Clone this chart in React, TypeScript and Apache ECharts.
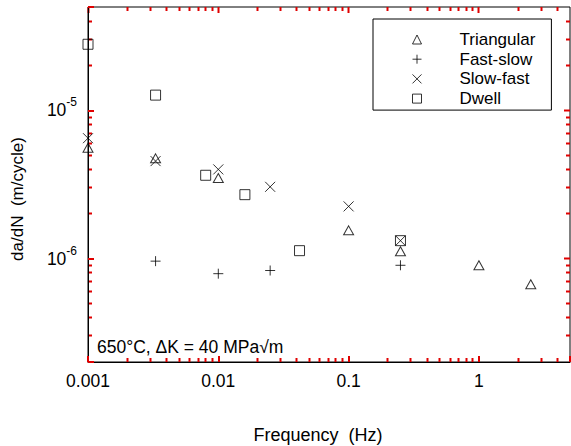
import React, { useEffect, useRef } from 'react';
import * as echarts from 'echarts';

// ---- data (frequency in Hz, da/dN in m/cycle) ----
const triangularFreq = [0.001, 0.0033, 0.01, 0.1, 0.25, 1, 2.5];
const triangularRate = [5.6e-6, 4.75e-6, 3.5e-6, 1.55e-6, 1.12e-6, 9.0e-7, 6.7e-7];

const fastSlowFreq = [0.0033, 0.01, 0.025, 0.25];
const fastSlowRate = [9.6e-7, 7.9e-7, 8.3e-7, 9.0e-7];

const slowFastFreq = [0.001, 0.0033, 0.01, 0.025, 0.1, 0.25];
const slowFastRate = [6.5e-6, 4.55e-6, 4.0e-6, 3.05e-6, 2.25e-6, 1.32e-6];

const dwellFreq = [0.001, 0.0033, 0.008, 0.016, 0.042, 0.25];
const dwellRate = [2.8e-5, 1.27e-5, 3.65e-6, 2.7e-6, 1.13e-6, 1.32e-6];

const seriesNames = ['Triangular', 'Fast-slow', 'Slow-fast', 'Dwell'];

// ---- axes ----
const xMin = 0.001;
const xMax = 5;
const yMin = 2e-7;
const yMax = 5e-5;
const xTickValues = [0.001, 0.01, 0.1, 1];
const xTickLabels = ['0.001', '0.01', '0.1', '1'];
const yTickValues = [1e-6, 1e-5];
const yTickExponents = ['-6', '-5'];

const xDecades = [-3, -2, -1, 0];
const yDecades = [-7, -6, -5];
const mantissas = [2, 3, 4, 5, 6, 7, 8, 9];

function minorTicks(decades: number[], lo: number, hi: number) {
  const out: number[] = [];
  decades.forEach((d) => {
    mantissas.forEach((m) => {
      const v = m * Math.pow(10, d);
      if (v > lo * 1.0001 && v < hi * 0.9999) out.push(v);
    });
  });
  return out;
}

function nearestIndex(values: number[], v: number) {
  let best = 0;
  let bestD = Infinity;
  values.forEach((t, i) => {
    const d = Math.abs(Math.log10(t) - Math.log10(v));
    if (d < bestD) {
      bestD = d;
      best = i;
    }
  });
  return bestD < 0.01 ? best : -1;
}

const FONT = '"Liberation Sans", Arial, Helvetica, sans-serif';
const MAJOR_LEN = 6;
const MINOR_LEN = 4;
const TICK_COLOR = '#e00000';
const TICK_WIDTH = 2;

const pair = (xs: number[], ys: number[]) => xs.map((x, i) => [x, ys[i]]);
const crisp = (v: number) => Math.round(v - 0.5) + 0.5;

export default function App() {
  const ref = useRef<HTMLDivElement>(null);

  useEffect(() => {
    if (!ref.current) return;
    const chart = echarts.init(ref.current, undefined, { renderer: 'svg' });

    const xMinor = minorTicks(xDecades, xMin, xMax);
    const yMinor = minorTicks(yDecades, yMin, yMax);

    const itemStyle = { color: 'transparent', borderColor: '#000', borderWidth: 1 };

    const textGraphics: any[] = [
      {
        type: 'text',
        x: 97,
        y: 347,
        style: {
          text: '650\u00B0C, \u0394K = 40 MPa\u221Am',
          fontSize: 17.5,
          fontFamily: FONT,
          fill: '#000',
          align: 'left',
          verticalAlign: 'middle',
        },
      },
      {
        type: 'text',
        x: 318,
        y: 435,
        style: {
          text: 'Frequency  (Hz)',
          fontSize: 18,
          fontFamily: FONT,
          fill: '#000',
          align: 'center',
          verticalAlign: 'middle',
        },
      },
      {
        type: 'text',
        x: 17,
        y: 199,
        rotation: Math.PI / 2,
        style: {
          text: 'da/dN  (m/cycle)',
          fontSize: 17,
          fontFamily: FONT,
          fill: '#000',
          align: 'center',
          verticalAlign: 'middle',
        },
      },
    ];

    chart.setOption({
      animation: false,
      grid: {
        left: 88,
        top: 7,
        right: 1,
        bottom: 84,
        containLabel: false,
        outerBoundsMode: 'none',
        show: true,
        borderColor: '#000',
        borderWidth: 1,
        backgroundColor: 'transparent',
      },
      xAxis: {
        type: 'log',
        min: xMin,
        max: xMax,
        axisLine: { show: true, lineStyle: { color: '#000', width: 1 } },
        axisTick: { show: true, inside: true, length: MAJOR_LEN, lineStyle: { color: TICK_COLOR, width: TICK_WIDTH } },
        axisLabel: {
          formatter: (v: number) => {
            const i = nearestIndex(xTickValues, v);
            return i >= 0 ? xTickLabels[i] : '';
          },
          color: '#000',
          fontSize: 17.5,
          fontFamily: FONT,
          margin: 10,
        },
        splitLine: { show: false },
      },
      yAxis: {
        type: 'log',
        min: yMin,
        max: yMax,
        axisLine: { show: true, lineStyle: { color: '#000', width: 1 } },
        axisTick: { show: true, inside: true, length: MAJOR_LEN, lineStyle: { color: TICK_COLOR, width: TICK_WIDTH } },
        axisLabel: {
          formatter: (v: number) => {
            const i = nearestIndex(yTickValues, v);
            return i >= 0 ? `{b|10}{s|${yTickExponents[i]}}` : '';
          },
          color: '#000',
          fontFamily: FONT,
          margin: 11,
          rich: {
            b: { fontSize: 17.5, lineHeight: 28, fontFamily: FONT, color: '#000' },
            s: { fontSize: 12, lineHeight: 12, verticalAlign: 'top', fontFamily: FONT, color: '#000' },
          },
        },
        splitLine: { show: false },
      },
      legend: {
        orient: 'vertical',
        left: 373,
        top: 19,
        padding: [12, 16, 3, 39],
        itemWidth: 9,
        itemHeight: 9,
        itemGap: 2.7,
        selectedMode: false,
        borderColor: '#000',
        borderWidth: 1,
        backgroundColor: '#fff',
        itemStyle: { color: 'transparent', borderColor: '#000', borderWidth: 1 },
        textStyle: { fontSize: 17, lineHeight: 17, fontFamily: FONT, color: '#000', padding: [0, 0, 0, 33] },
        data: seriesNames,
      },
      series: [
        {
          name: seriesNames[0],
          type: 'scatter',
          symbol: 'triangle',
          symbolSize: [10, 9],
          itemStyle,
          data: pair(triangularFreq, triangularRate),
          clip: false,
        },
        {
          name: seriesNames[1],
          type: 'scatter',
          symbol: 'path://M5,0L5,10M0,5L10,5',
          symbolSize: 10,
          itemStyle,
          data: pair(fastSlowFreq, fastSlowRate),
          clip: false,
        },
        {
          name: seriesNames[2],
          type: 'scatter',
          symbol: 'path://M0,0L10,10M10,0L0,10',
          symbolSize: 10,
          itemStyle,
          data: pair(slowFastFreq, slowFastRate),
          clip: false,
        },
        {
          name: seriesNames[3],
          type: 'scatter',
          symbol: 'rect',
          symbolSize: 10,
          itemStyle,
          data: pair(dwellFreq, dwellRate),
          clip: false,
        },
      ],
      graphic: textGraphics,
    });

    // Minor ticks and mirrored ticks, placed through the axes' own scales.
    const ticks: any[] = [];
    const toX = (v: number) => Number(chart.convertToPixel({ xAxisIndex: 0 }, v));
    const toY = (v: number) => Number(chart.convertToPixel({ yAxisIndex: 0 }, v));
    const left = toX(xMin);
    const right = toX(xMax);
    const bottom = toY(yMin);
    const top = toY(yMax);
    const lineStyle = () => ({ stroke: TICK_COLOR, lineWidth: TICK_WIDTH });

    const addX = (v: number, len: number, both: boolean) => {
      const px = toX(v);
      if (!isFinite(px)) return;
      const x = crisp(px);
      if (both) {
        ticks.push({ type: 'line', shape: { x1: x, y1: bottom, x2: x, y2: bottom - len }, style: lineStyle() });
      }
      ticks.push({ type: 'line', shape: { x1: x, y1: top, x2: x, y2: top + len }, style: lineStyle() });
    };
    const addY = (v: number, len: number, both: boolean) => {
      const py = toY(v);
      if (!isFinite(py)) return;
      const y = crisp(py);
      if (both) {
        ticks.push({ type: 'line', shape: { x1: left, y1: y, x2: left + len, y2: y }, style: lineStyle() });
      }
      ticks.push({ type: 'line', shape: { x1: right, y1: y, x2: right - len, y2: y }, style: lineStyle() });
    };
    if (isFinite(left) && isFinite(right) && isFinite(top) && isFinite(bottom)) {
      xTickValues.forEach((v) => addX(v, MAJOR_LEN, false));
      xMinor.forEach((v) => addX(v, MINOR_LEN, true));
      yTickValues.forEach((v) => addY(v, MAJOR_LEN, false));
      yMinor.forEach((v) => addY(v, MINOR_LEN, true));
      chart.setOption({ graphic: [...textGraphics, ...ticks] });
    }

    return () => chart.dispose();
  }, []);

  return (
    <div
      ref={ref}
      style={{ position: 'absolute', left: 0, top: 0, width: 571, height: 446, background: '#fff' }}
    />
  );
}
